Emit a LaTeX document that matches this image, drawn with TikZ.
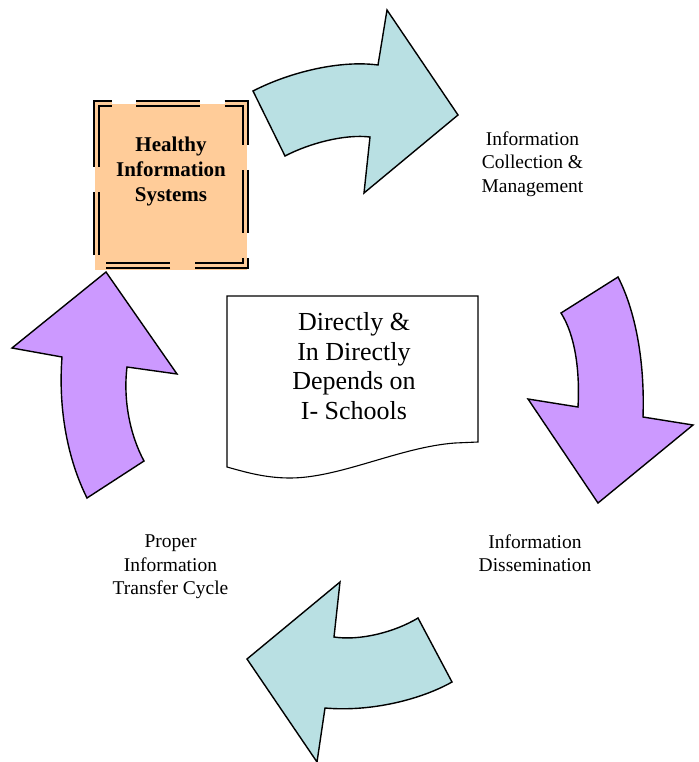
\documentclass[tikz,border=0pt]{standalone}
\usepackage{fontspec}
\setmainfont{Liberation Serif}
\definecolor{tealA}{HTML}{B9E0E3}
\definecolor{violetA}{HTML}{CC99FF}
\definecolor{orangeA}{HTML}{FFCC99}
\begin{document}
\begin{tikzpicture}[x=1pt,y=-1pt,
  arrowshape/.style={draw=black,line width=1.4pt,line join=miter},
  docshape/.style={draw=black,line width=1.1pt,fill=white},
  dblborder/.style={draw=black,line width=2pt,double=orangeA,double distance=3pt,line join=miter},
  lbl/.style={align=center,inner sep=0pt,font=\fontsize{19.5}{23.5}\selectfont},
  doctxt/.style={align=center,inner sep=0pt,font=\fontsize{26}{29.5}\selectfont},
  boxtxt/.style={align=center,inner sep=0pt,font=\bfseries\fontsize{21}{25}\selectfont}]
\useasboundingbox (0,0) rectangle (698,762);

% top arrow (teal)
\draw[arrowshape,fill=tealA] (253,91) .. controls (290,72) and (340,60) .. (378,65)
  -- (387,10) -- (458,115) -- (364,193) -- (370,137)
  .. controls (345,134) and (310,143) .. (285,156) -- cycle;

% right arrow (violet)
\draw[arrowshape,fill=violetA] (561,313) -- (618,277)
  .. controls (635,310) and (645,360) .. (643,417)
  -- (693,425) -- (598,503) -- (528,399) -- (578,407)
  .. controls (580,370) and (575,335) .. cycle;

% bottom arrow (teal)
\draw[arrowshape,fill=tealA] (418,618) -- (452,682)
  .. controls (420,700) and (370,712) .. (325,708)
  -- (317,762) -- (247,659) -- (340,582) -- (334,637)
  .. controls (360,641) and (395,632) .. cycle;

% left arrow (violet)
\draw[arrowshape,fill=violetA] (106,272) -- (177,374) -- (127,367)
  .. controls (123,400) and (130,435) .. (144,461)
  -- (87,498) .. controls (68,460) and (58,410) .. (62,357)
  -- (12,348) -- cycle;

% box
\node[fill=orangeA,inner sep=0pt,minimum width=152pt,minimum height=165.5pt] (hisbox) at (171,187.25) {};
\draw[dblborder] (96,166.7) -- (96,103.8) -- (112,103.8);
\draw[dblborder] (136,103.8) -- (200,103.8);
\draw[dblborder] (224.7,103.8) -- (245.5,103.8) -- (245.5,145);
\draw[dblborder] (245.5,170) -- (245.5,233);
\draw[dblborder] (245.5,258) -- (245.5,265.5) -- (195,265.5);
\draw[dblborder] (170,265.5) -- (106,265.5);
\draw[dblborder] (96,255) -- (96,191.7);
\node[boxtxt] (his) at (171,171.5) {Healthy\\Information\\Systems};

% document shape
\draw[docshape] (227,296) -- (478,296) -- (478,442) -- (455,443)
  .. controls (400,447) and (340,478) .. (290,478)
  .. controls (265,478) and (245,472) .. (227,467) -- cycle;
\node[doctxt] (doctext) at (354,366) {Directly \&\\In Directly\\Depends on\\I- Schools};

% labels
\node[lbl] (icm) at (532.5,163.9) {Information\\Collection \&\\Management};
\node[lbl] (idis) at (535,553.2) {Information\\Dissemination};
\node[lbl] (pitc) at (170.5,567.2) {Proper\\Information\\Transfer Cycle};
\end{tikzpicture}
\end{document}
